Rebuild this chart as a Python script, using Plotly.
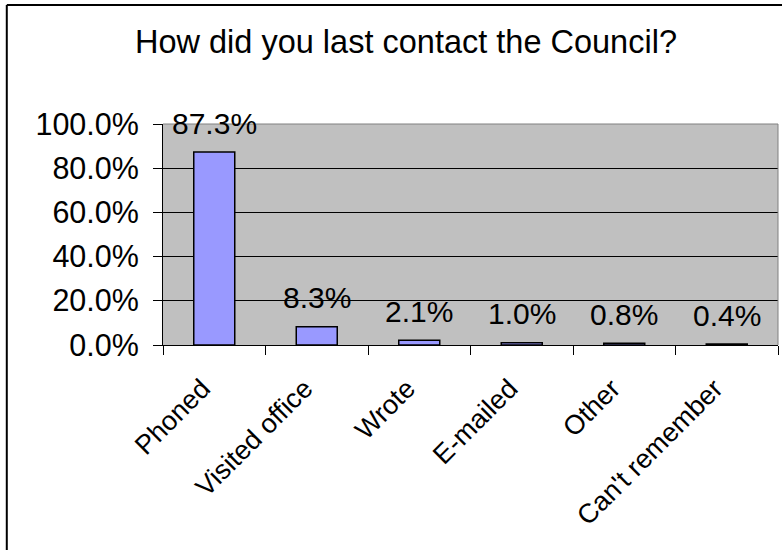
import plotly.graph_objects as go

categories = ["Phoned", "Visited office", "Wrote", "E-mailed", "Other", "Can't remember"]
percentages = [87.3, 8.3, 2.1, 1.0, 0.8, 0.4]
y_ticks = [0, 20, 40, 60, 80, 100]
y_tick_labels = ["0.0%", "20.0%", "40.0%", "60.0%", "80.0%", "100.0%"]
title_text = "How did you last contact the Council?"

FONT = "Liberation Sans, Arial, sans-serif"

fig = go.Figure()
fig.add_trace(go.Bar(
    x=categories,
    y=percentages,
    width=0.4,
    marker=dict(color="#9999FF", line=dict(color="black", width=1.5)),
    hoverinfo="x+y",
))

# value labels above each bar
for cat, val in zip(categories, percentages):
    fig.add_annotation(
        x=cat, y=val, xref="x", yref="y",
        text=f"{val:.1f}%", showarrow=False,
        yanchor="middle", yshift=29,
        font=dict(family=FONT, size=30, color="black"),
    )

# chart title
fig.add_annotation(
    x=0.395, y=1.372, xref="paper", yref="paper",
    text=title_text, showarrow=False,
    xanchor="center", yanchor="middle",
    font=dict(family=FONT, size=32.5, color="black"),
)

# outer chart frame (left and top edges visible)
fx, fy = -0.254, 1.538
fig.add_shape(type="line", xref="paper", yref="paper", x0=fx, y0=fy, x1=fx, y1=-1.2,
              line=dict(color="black", width=2))
fig.add_shape(type="line", xref="paper", yref="paper", x0=fx, y0=fy, x1=1.2, y1=fy,
              line=dict(color="black", width=2))

# grey border on top and right of the plot area
fig.add_shape(type="line", xref="paper", yref="paper", x0=0, y0=1, x1=1, y1=1,
              line=dict(color="#808080", width=1))
fig.add_shape(type="line", xref="paper", yref="paper", x0=1, y0=0, x1=1, y1=1,
              line=dict(color="#808080", width=1))

fig.update_layout(
    width=782, height=550,
    margin=dict(l=163, r=4, t=124, b=205),
    paper_bgcolor="white",
    plot_bgcolor="#C0C0C0",
    showlegend=False,
    bargap=0.6,
    font=dict(family=FONT, size=30, color="black"),
)
fig.update_xaxes(
    type="category",
    tickangle=-45,
    showline=True, linecolor="black", linewidth=1,
    ticks="outside", ticklen=9, tickcolor="black",
    tickson="boundaries",
    showgrid=False,
    tickfont=dict(family=FONT, size=27, color="black"),
    ticklabelstandoff=16,
    ticklabelshift=-12,
)
fig.update_yaxes(
    range=[0, 100],
    tickvals=y_ticks, ticktext=y_tick_labels,
    showline=True, linecolor="black", linewidth=1,
    ticks="outside", ticklen=9, tickcolor="black",
    showgrid=True, gridcolor="black", gridwidth=1,
    zeroline=False,
    tickfont=dict(family=FONT, size=30.5, color="black"),
    ticklabelstandoff=8,
)

fig.write_html("out.html")
